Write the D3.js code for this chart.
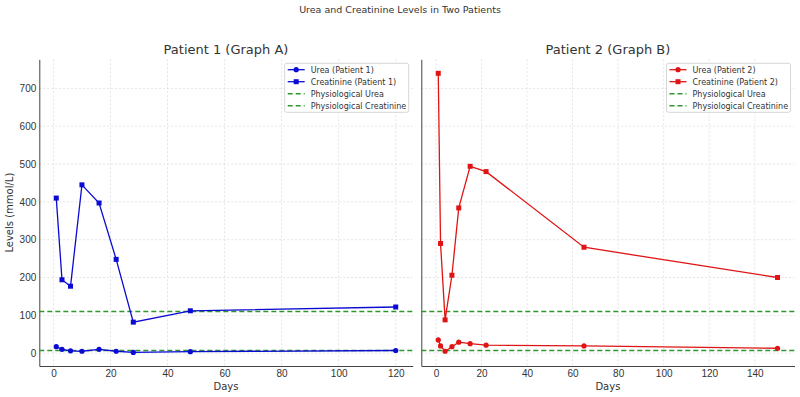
<!DOCTYPE html>
<html>
<head>
<meta charset="utf-8">
<script src="https://cdn.jsdelivr.net/npm/d3@7"></script>
<style>
  body { margin: 0; background: #fff; }
  svg { font-family: "DejaVu Sans", sans-serif; }
  .tick text { fill: #333; font-size: 10px; }
</style>
</head>
<body>
<div id="chart"></div>
<script>
/* DATA */
const days1 = [1, 3, 6, 10, 16, 22, 28, 48, 120];
const urea1 = [17, 10, 6, 5, 10, 5, 2, 4, 7];
const creat1 = [410, 194, 177, 445, 397, 248, 82, 112, 122];

const days2 = [1, 2, 4, 7, 10, 15, 22, 65, 150];
const urea2 = [35, 19, 5, 17, 29, 25, 21, 19, 13];
const creat2 = [740, 290, 88, 206, 384, 494, 480, 280, 200];

const physUrea = 7;
const physCreat = 110;

const yTicks = [0, 100, 200, 300, 400, 500, 600, 700];
const xTicks1 = [0, 20, 40, 60, 80, 100, 120];
const xTicks2 = [0, 20, 40, 60, 80, 100, 120, 140];

/* CONSTANTS */
const width = 800, height = 397;
const plotTop = 59.3, plotBottom = 366;
const green = "#2e962e";

const svg = d3.select("#chart").append("svg")
  .attr("width", width)
  .attr("height", height);

svg.append("text")
  .attr("x", 400).attr("y", 13)
  .attr("text-anchor", "middle")
  .attr("font-size", 9.5)
  .attr("fill", "#333")
  .text("Urea and Creatinine Levels in Two Patients");

const yScale = d3.scaleLinear().domain([-34, 777]).range([plotBottom, plotTop]);

const panels = [
  { title: "Patient 1 (Graph A)", left: 39.3, right: 412.7, xDomain: [-4.95, 125.95],
    xTicks: xTicks1, days: days1, urea: urea1, creat: creat1, color: "#0a0ad2", n: 1, showY: true },
  { title: "Patient 2 (Graph B)", left: 421.3, right: 794.5, xDomain: [-6.45, 157.45],
    xTicks: xTicks2, days: days2, urea: urea2, creat: creat2, color: "#e01414", n: 2, showY: false }
];

panels.forEach(p => drawPanel(p));

function drawPanel(p) {
  const x = d3.scaleLinear().domain(p.xDomain).range([p.left, p.right]);
  const g = svg.append("g");

  // grid
  g.append("g").selectAll("line")
    .data(p.xTicks).join("line")
    .attr("x1", d => x(d)).attr("x2", d => x(d))
    .attr("y1", plotTop).attr("y2", plotBottom)
    .attr("stroke", "#d8d8d8").attr("stroke-width", 0.7)
    .attr("stroke-dasharray", "2,2");
  g.append("g").selectAll("line")
    .data(yTicks).join("line")
    .attr("x1", p.left).attr("x2", p.right)
    .attr("y1", d => yScale(d)).attr("y2", d => yScale(d))
    .attr("stroke", "#d8d8d8").attr("stroke-width", 0.7)
    .attr("stroke-dasharray", "2,2");

  // axes
  const xAxis = g.append("g")
    .attr("transform", `translate(0, ${plotBottom})`)
    .call(d3.axisBottom(x).tickValues(p.xTicks).tickSize(0).tickPadding(3.5).tickFormat(d3.format("d")));
  xAxis.select(".domain").attr("stroke", "#444").attr("stroke-width", 1);

  const yAxis = g.append("g")
    .attr("transform", `translate(${p.left}, 0)`)
    .call(d3.axisLeft(yScale).tickValues(yTicks).tickSize(0).tickPadding(3)
      .tickFormat(p.showY ? d3.format("d") : ""));
  yAxis.select(".domain").attr("stroke", "#444").attr("stroke-width", 1);

  g.append("text")
    .attr("x", (p.left + p.right) / 2).attr("y", 390)
    .attr("text-anchor", "middle").attr("font-size", 10).attr("fill", "#333")
    .text("Days");

  if (p.showY) {
    g.append("text")
      .attr("transform", `translate(13, ${(plotTop + plotBottom) / 2}) rotate(-90)`)
      .attr("text-anchor", "middle").attr("font-size", 10).attr("fill", "#333")
      .text("Levels (mmol/L)");
  }

  g.append("text")
    .attr("x", (p.left + p.right) / 2).attr("y", 54)
    .attr("text-anchor", "middle").attr("font-size", 13).attr("fill", "#333")
    .text(p.title);

  // physiological lines
  [physUrea, physCreat].forEach(v => {
    g.append("line")
      .attr("x1", p.left).attr("x2", p.right)
      .attr("y1", yScale(v)).attr("y2", yScale(v))
      .attr("stroke", green).attr("stroke-width", 1.5)
      .attr("stroke-dasharray", "5,3");
  });

  const line = d3.line().x(d => x(d[0])).y(d => yScale(d[1]));
  const ureaPts = d3.zip(p.days, p.urea);
  const creatPts = d3.zip(p.days, p.creat);

  g.append("path").datum(ureaPts).attr("d", line)
    .attr("fill", "none").attr("stroke", p.color).attr("stroke-width", 1.3);
  g.append("g").selectAll("circle").data(ureaPts).join("circle")
    .attr("cx", d => x(d[0])).attr("cy", d => yScale(d[1]))
    .attr("r", 2.6).attr("fill", p.color);

  g.append("path").datum(creatPts).attr("d", line)
    .attr("fill", "none").attr("stroke", p.color).attr("stroke-width", 1.3);
  g.append("g").selectAll("rect").data(creatPts).join("rect")
    .attr("x", d => x(d[0]) - 2.5).attr("y", d => yScale(d[1]) - 2.5)
    .attr("width", 5).attr("height", 5).attr("fill", p.color);

  // legend
  const items = [
    { label: `Urea (Patient ${p.n})`, type: "circle" },
    { label: `Creatinine (Patient ${p.n})`, type: "square" },
    { label: "Physiological Urea", type: "dash" },
    { label: "Physiological Creatinine", type: "dash" }
  ];
  const lw = 124, lh = 49;
  const lx = p.right - 4 - lw, ly = 63.3;
  const leg = g.append("g").attr("transform", `translate(${lx}, ${ly})`);
  leg.append("rect").attr("width", lw).attr("height", lh).attr("rx", 2)
    .attr("fill", "#fff").attr("fill-opacity", 0.85)
    .attr("stroke", "#ccc").attr("stroke-width", 0.8);
  items.forEach((it, i) => {
    const cy = 6.4 + i * 12;
    const row = leg.append("g").attr("transform", `translate(0, ${cy})`);
    if (it.type === "dash") {
      row.append("line").attr("x1", 3).attr("x2", 20).attr("y1", 0).attr("y2", 0)
        .attr("stroke", green).attr("stroke-width", 1.5).attr("stroke-dasharray", "5,3");
    } else {
      row.append("line").attr("x1", 3).attr("x2", 20).attr("y1", 0).attr("y2", 0)
        .attr("stroke", p.color).attr("stroke-width", 1.3);
      if (it.type === "circle") {
        row.append("circle").attr("cx", 11.5).attr("cy", 0).attr("r", 2.6).attr("fill", p.color);
      } else {
        row.append("rect").attr("x", 9).attr("y", -2.5).attr("width", 5).attr("height", 5).attr("fill", p.color);
      }
    }
    row.append("text").attr("x", 26).attr("y", 3)
      .attr("font-size", 8).attr("fill", "#333")
      .text(it.label);
  });
}
</script>
</body>
</html>
